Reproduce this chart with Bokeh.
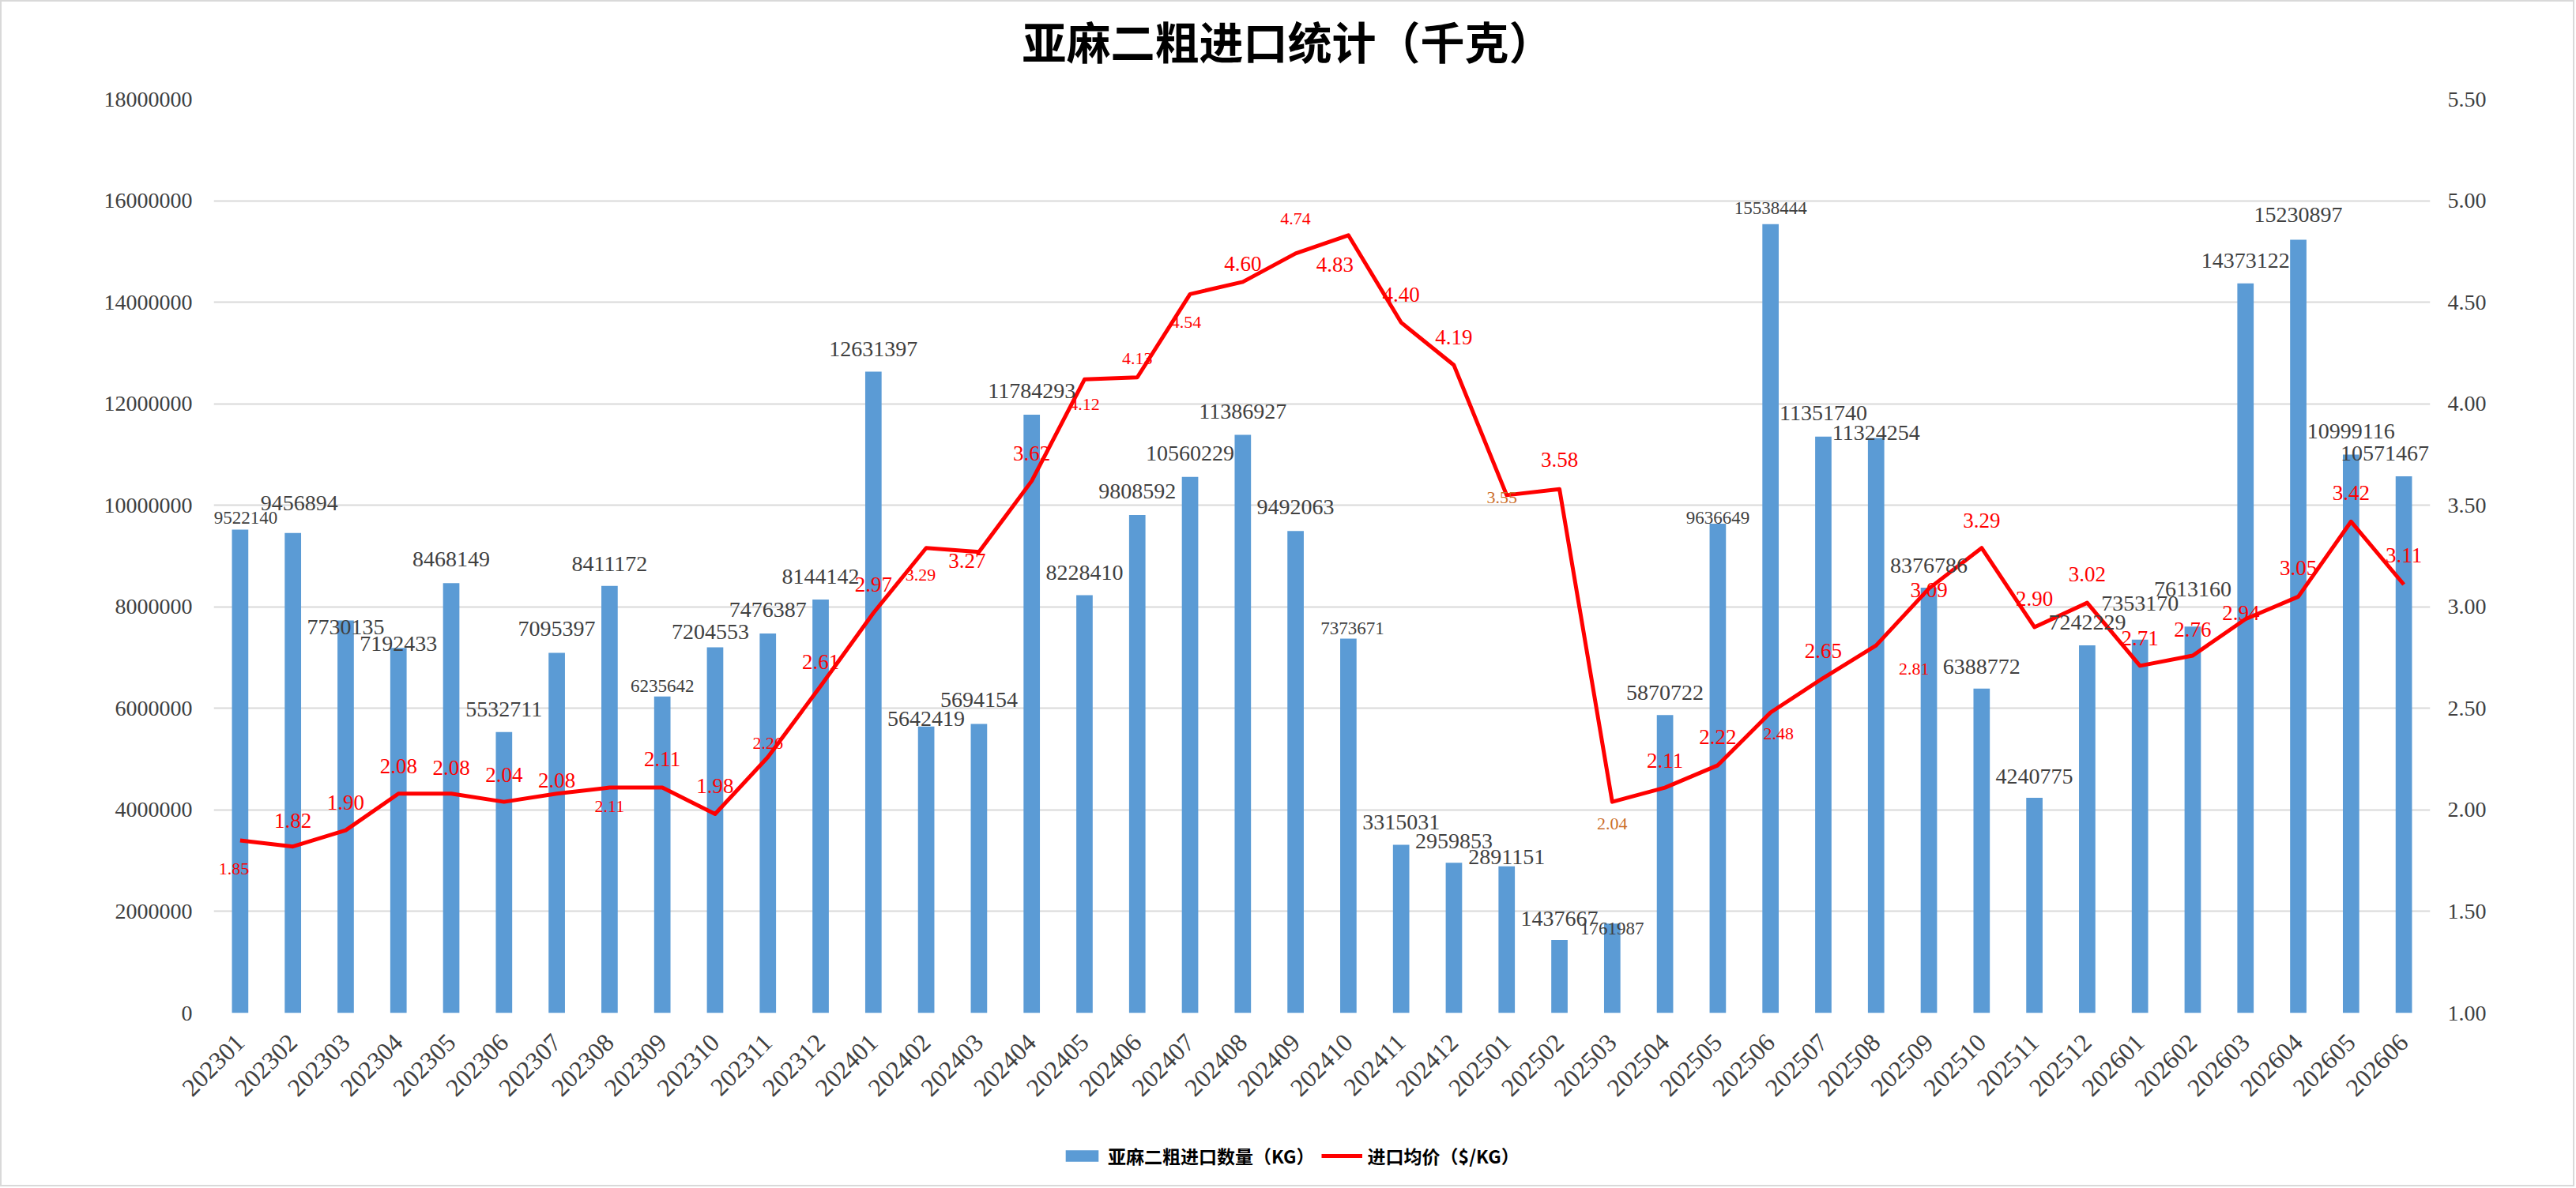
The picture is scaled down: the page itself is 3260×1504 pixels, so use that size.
import math
from bokeh.plotting import figure
from bokeh.layouts import column
from bokeh.models import (ColumnDataSource, FactorRange, Range1d, LinearAxis, FixedTicker,
                          NumeralTickFormatter, Legend, LegendItem, LabelSet, Label)
from bokeh.embed import file_html
from bokeh.resources import INLINE
from bokeh.core.properties import value

# ---------------- data ----------------
months = ["202301", "202302", "202303", "202304", "202305", "202306", "202307", "202308",
          "202309", "202310", "202311", "202312",
          "202401", "202402", "202403", "202404", "202405", "202406", "202407", "202408",
          "202409", "202410", "202411", "202412",
          "202501", "202502", "202503", "202504", "202505", "202506", "202507", "202508",
          "202509", "202510", "202511", "202512",
          "202601", "202602", "202603", "202604", "202605", "202606"]

volume_kg = [9522140, 9456894, 7730135, 7192433, 8468149, 5532711, 7095397, 8411172,
             6235642, 7204553, 7476387, 8144142,
             12631397, 5642419, 5694154, 11784293, 8228410, 9808592, 10560229, 11386927,
             9492063, 7373671, 3315031, 2959853,
             2891151, 1437667, 1761987, 5870722, 9636649, 15538444, 11351740, 11324254,
             8376786, 6388772, 4240775, 7242229,
             7353170, 7613160, 14373122, 15230897, 10999116, 10571467]

avg_price = [1.85, 1.82, 1.90, 2.08, 2.08, 2.04, 2.08, 2.11, 2.11, 1.98, 2.26, 2.61,
             2.97, 3.29, 3.27, 3.62, 4.12, 4.13, 4.54, 4.60, 4.74, 4.83, 4.40, 4.19,
             3.55, 3.58, 2.04, 2.11, 2.22, 2.48, 2.65, 2.81, 3.09, 3.29, 2.90, 3.02,
             2.71, 2.76, 2.94, 3.05, 3.42, 3.11]

volume_ticks = [0, 2000000, 4000000, 6000000, 8000000, 10000000, 12000000, 14000000,
                16000000, 18000000]
price_ticks = [1.00, 1.50, 2.00, 2.50, 3.00, 3.50, 4.00, 4.50, 5.00, 5.50]

title_text = "亚麻二粗进口统计（千克）"
bar_name = "亚麻二粗进口数量（KG）"
line_name = "进口均价（$/KG）"

# ---------------- label placement (screen px, +down) ----------------
bar_lbl_dx = [7, 8, 0, 0, 0, 0, 0, 0, 0, -6, 0, 0,
              0, 0, 0, 0, 0, 0, 0, 0, 0, 5, 0, 0,
              0, 0, 0, 0, 0, 0, 0, 0, 0, 0, 0, 0,
              0, 0, 0, 0, 0, -24]
bar_lbl_dy = [-15, -38, 8, -5, -30, -29, -30, -28, -13, -19, -30, -29,
              -29, -10, -30, -30, -29, -30, -30, -30, -30, -13, -28, -27,
              -12, -27, 6, -28, -8, -20, -30, -7, -28, -28, -27, -29,
              -46, -47, -29, -31, -30, -29]
bar_lbl_small = {0, 8, 21, 26, 28, 29}

line_lbl_dx = [-8, 0, 0, 0, 0, 0, 0, 0, 0, 0, 0, 0,
               0, -7, -15, 0, 0, 0, -5, 0, 0, -17, 0, 0,
               -6, 0, 0, 0, 0, 10, 0, 48, 0, 0, 0, 0,
               0, 0, -6, 0, 0, 0]
line_lbl_dy = [36, -33, -35, -35, -33, -34, -17, 24, -36, -36, -18, -31,
               -36, 34, 11, -35, 32, -24, 36, -23, -44, 37, -35, -35,
               3, -37, 28, -34, -36, 27, -34, 30, 2, -35, -36, -36,
               -35, -33, -8, -36, -36, -37]
line_lbl_small = {0, 7, 10, 13, 16, 17, 18, 20, 24, 26, 29, 31}
line_lbl_orange = {24, 26}

NUM_FONT = "Liberation Serif"
CJK_FONT = "Noto Sans CJK SC"
BAR_COLOR = "#5B9BD5"
LINE_COLOR = "#FF0000"

W = 3254
H_HEAD = 103
H_MAIN = 1317
H_LEG = 78
LEFT = 268
RIGHT = 181

# ---------------- header (title) ----------------
# the column aligns the frames of its children, so the header frame spans
# the same horizontal pixels as the main chart frame
head = figure(width=W, height=H_HEAD, x_range=Range1d(LEFT, W - RIGHT),
              y_range=Range1d(0, H_HEAD), x_axis_type=None, y_axis_type=None,
              output_backend="svg", toolbar_location=None, min_border=0)
head.outline_line_color = None
head.add_layout(Label(x=1291, y=55, text=title_text, text_align="left",
                      text_baseline="middle", text_font=CJK_FONT,
                      text_font_size="56px", text_font_style="bold",
                      text_color="#000000"))

# ---------------- main chart ----------------
p = figure(width=W, height=H_MAIN,
           x_range=FactorRange(*months), y_range=Range1d(0, 18000000),
           output_backend="svg", toolbar_location=None,
           min_border_left=LEFT, min_border_right=RIGHT,
           min_border_top=20, min_border_bottom=140)
p.extra_y_ranges = {"price": Range1d(1.0, 5.5)}
p.outline_line_color = None

src = ColumnDataSource(dict(m=months, v=volume_kg, pr=avg_price))

p.vbar(x="m", top="v", width=0.31, source=src, fill_color=BAR_COLOR, line_color=None)
p.line(x="m", y="pr", source=src, y_range_name="price",
       line_color=LINE_COLOR, line_width=5, line_join="round")

n = len(months)

bar_lbl = ColumnDataSource(dict(
    m=months, v=volume_kg, t=[str(v) for v in volume_kg],
    dx=bar_lbl_dx, dy=[-d for d in bar_lbl_dy],
    fs=["23px" if i in bar_lbl_small else "28px" for i in range(n)]))
p.add_layout(LabelSet(x="m", y="v", text="t", x_offset="dx", y_offset="dy",
                      source=bar_lbl, text_font=value(NUM_FONT), text_font_size="fs",
                      text_color="#404040", text_align="center",
                      text_baseline="middle"))

line_lbl = ColumnDataSource(dict(
    m=months, pr=avg_price, t=["%.2f" % v for v in avg_price],
    dx=line_lbl_dx, dy=[-d for d in line_lbl_dy],
    fs=["22px" if i in line_lbl_small else "27px" for i in range(n)],
    c=["#CC6E2A" if i in line_lbl_orange else "#FF0000" for i in range(n)]))
p.add_layout(LabelSet(x="m", y="pr", text="t", x_offset="dx", y_offset="dy",
                      source=line_lbl, y_range_name="price",
                      text_font=value(NUM_FONT), text_font_size="fs",
                      text_color="c", text_align="center", text_baseline="middle"))

ya = p.yaxis[0]
ya.ticker = FixedTicker(ticks=volume_ticks)
ya.formatter = NumeralTickFormatter(format="0")
ya.axis_line_color = None
ya.major_tick_line_color = None
ya.minor_tick_line_color = None
ya.major_label_standoff = 21
ya.major_label_text_font = NUM_FONT
ya.major_label_text_font_size = "28px"
ya.major_label_text_color = "#404040"

ra = LinearAxis(y_range_name="price", ticker=FixedTicker(ticks=price_ticks),
                formatter=NumeralTickFormatter(format="0.00"))
ra.axis_line_color = None
ra.major_tick_line_color = None
ra.minor_tick_line_color = None
ra.major_label_standoff = 16
ra.major_label_text_font = NUM_FONT
ra.major_label_text_font_size = "28px"
ra.major_label_text_color = "#404040"
p.add_layout(ra, "right")

xa = p.xaxis[0]
xa.axis_line_color = None
xa.major_tick_line_color = None
xa.major_label_orientation = math.pi / 4
xa.major_label_standoff = 26
xa.major_label_text_font = NUM_FONT
xa.major_label_text_font_size = "32px"
xa.major_label_text_color = "#404040"

p.xgrid.grid_line_color = None
p.ygrid.grid_line_color = "#D9D9D9"
p.ygrid.grid_line_width = 2

# ---------------- legend strip ----------------
# hidden copies of the two series, only used so the legend can draw its swatches
lp = figure(width=W, height=H_LEG, x_range=FactorRange(*months),
            y_range=Range1d(0, 18000000), x_axis_type=None, y_axis_type=None,
            output_backend="svg", toolbar_location=None, min_border=0)
lp.outline_line_color = None
lbar = lp.vbar(x="m", top="v", width=0.31, source=src, fill_color=BAR_COLOR,
               line_color=None, visible=False)
lline = lp.line(x="m", y="pr", source=src, line_color=LINE_COLOR, line_width=5,
                visible=False)
legend = Legend(items=[LegendItem(label=bar_name, renderers=[lbar]),
                       LegendItem(label=line_name, renderers=[lline])],
                location=(1073, 20), orientation="horizontal",
                label_text_font=CJK_FONT, label_text_font_style="bold",
                label_text_font_size="23px", label_text_color="#000000",
                glyph_width=52, glyph_height=18, label_standoff=7, spacing=8,
                padding=0, margin=0, border_line_color=None,
                background_fill_alpha=0, inactive_fill_alpha=0)
lp.add_layout(legend)

layout = column(head, p, lp, spacing=0,
                styles={"border": "2px solid #D9D9D9", "background-color": "white"})

open("out.html", "w").write(file_html(layout, INLINE))
